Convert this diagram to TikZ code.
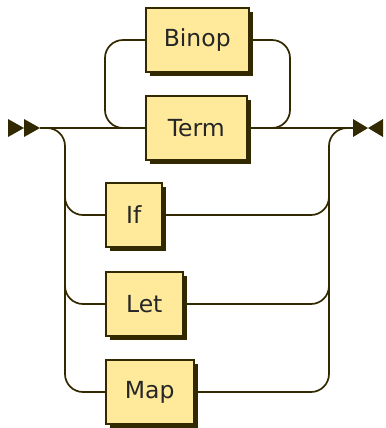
\documentclass[tikz,border=0pt]{standalone}
\usepackage{fontspec}
\setmainfont{DejaVu Sans}
\usetikzlibrary{shadows}
\definecolor{rrline}{RGB}{51,41,0}
\definecolor{rrfill}{RGB}{254,234,154}
\tikzset{
  rail/.style={draw=rrline, line width=1.7bp, rounded corners=18bp},
  nt/.style={draw=rrline, fill=rrfill, line width=1.5bp, minimum height=64bp,
    inner sep=0pt, anchor=west, text=black!85,
    font=\fontsize{23.5bp}{26bp}\selectfont,
    drop shadow={shadow xshift=4bp, shadow yshift=-4bp, fill=rrline, opacity=1}},
  tip/.style={fill=rrline, draw=none}
}
\begin{document}
\begin{tikzpicture}[x=1bp, y=-1bp]
\useasboundingbox (0,0) rectangle (386,428);
% nodes
\node[nt, minimum width=103bp] (binop) at (145,40) {Binop};
\node[nt, minimum width=101bp] (term) at (145,128) {Term};
\node[nt, minimum width=56bp] (if) at (105,215) {If};
\node[nt, minimum width=77bp] (let) at (105,304) {Let};
\node[nt, minimum width=88bp] (map) at (105,392) {Map};
\coordinate (s) at (40,128);
\coordinate (e) at (353,128);
% start / end marks
\fill[tip] (8,119) -- (24,128) -- (8,137) -- cycle;
\fill[tip] (24,119) -- (40,128) -- (24,137) -- cycle;
\fill[tip] (353,119) -- (368,128) -- (353,137) -- cycle;
\fill[tip] (383,119) -- (368,128) -- (383,137) -- cycle;
% main line
\draw[rail] (s) -- (term.west);
\draw[rail] (term.east) -- (e);
% repetition loop
\draw[rail] (term.east) -| (290,40) -- (binop.east);
\draw[rail] (binop.west) -| (105,128) -- (term.west);
% left branches
\draw[rail] (s) -| (65,392) -- (map.west);
\draw[rail] (65,180) |- (if.west);
\draw[rail] (65,270) |- (let.west);
% right branches
\draw[rail] (map.east) -| (329,128) -- (e);
\draw[rail] (if.east) -| (329,180);
\draw[rail] (let.east) -| (329,270);
\end{tikzpicture}
\end{document}
